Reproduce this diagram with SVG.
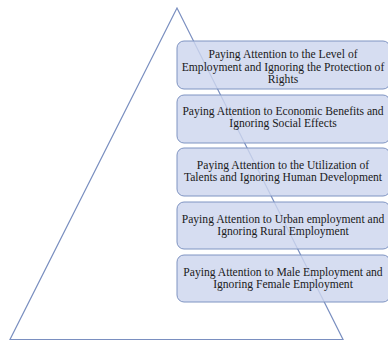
<svg xmlns="http://www.w3.org/2000/svg" width="388" height="343" viewBox="0 0 388 343">
<style>
.box{fill:#cdd5ee;fill-opacity:0.82;stroke:#7f94c2;stroke-width:1}
.t{font-family:"Liberation Serif","Times New Roman",serif;font-size:11.6px;fill:#1a1a1a;text-anchor:middle}
.tri{fill:#ffffff;stroke:#7a8fc0;stroke-width:1.2}
</style>
<rect width="388" height="343" fill="#ffffff"/>
<g id="pyramid"><polygon class="tri" points="177,8 10,339.5 343,339.5"/></g>
<g id="node1"><rect class="box" x="177" y="41" width="213" height="48" rx="7"/>
<text class="t" x="283" y="58">Paying Attention to the Level of</text>
<text class="t" x="283" y="70.5">Employment and Ignoring the Protection of</text>
<text class="t" x="283" y="83">Rights</text></g>
<g id="node2"><rect class="box" x="177" y="95" width="213" height="48" rx="7"/>
<text class="t" x="283" y="114.5">Paying Attention to Economic Benefits and</text>
<text class="t" x="283" y="127">Ignoring Social Effects</text></g>
<g id="node3"><rect class="box" x="177" y="148" width="213" height="48" rx="7"/>
<text class="t" x="283" y="168.5">Paying Attention to the Utilization of</text>
<text class="t" x="283" y="181">Talents and Ignoring Human Development</text></g>
<g id="node4"><rect class="box" x="177" y="202" width="213" height="47" rx="7"/>
<text class="t" x="283" y="222.5">Paying Attention to Urban employment and</text>
<text class="t" x="283" y="235">Ignoring Rural Employment</text></g>
<g id="node5"><rect class="box" x="177" y="255" width="213" height="47" rx="7"/>
<text class="t" x="283" y="275.5">Paying Attention to Male Employment and</text>
<text class="t" x="283" y="288">Ignoring Female Employment</text></g>
<g id="connectors"></g>
</svg>
